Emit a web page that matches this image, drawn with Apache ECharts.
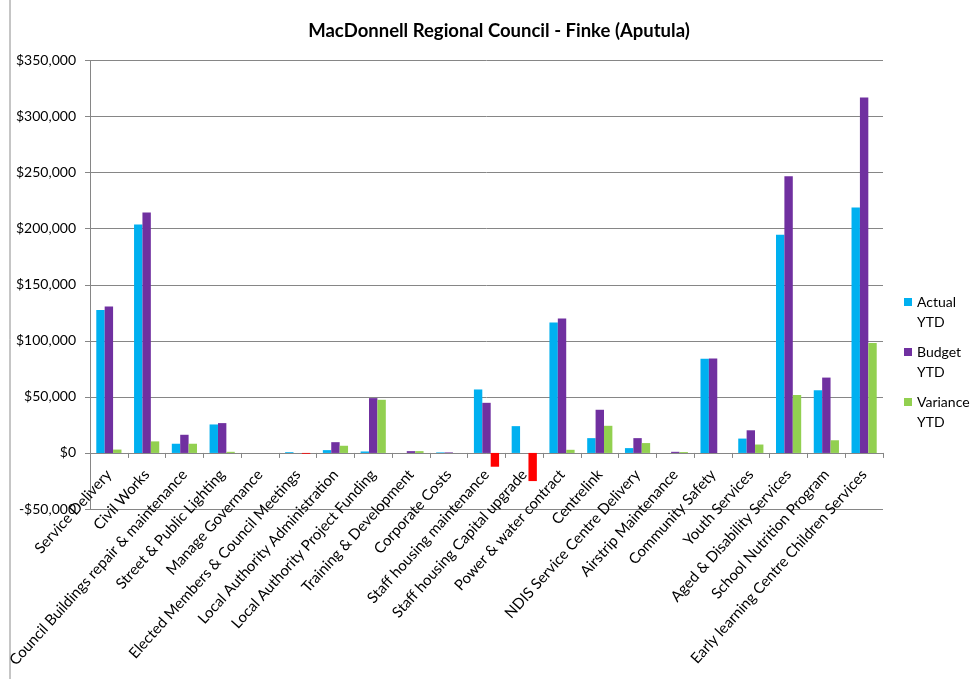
<!DOCTYPE html>
<html><head><meta charset="utf-8">
<script src="https://cdn.jsdelivr.net/npm/echarts@6/dist/echarts.min.js"></script>
<style>html,body{margin:0;padding:0;background:#fff}#c{width:979px;height:679px}</style>
</head><body><div id="c"></div>
<script>
var categories = ["Service Delivery","Civil Works","Council Buildings repair & maintenance","Street & Public Lighting","Manage Governance","Elected Members & Council Meetings","Local Authority Administration","Local Authority Project Funding","Training & Development","Corporate Costs","Staff housing maintenance","Staff housing Capital upgrade","Power & water contract","Centrelink","NDIS Service Centre Delivery","Airstrip Maintenance","Community Safety","Youth Services","Aged & Disability Services","School Nutrition Program","Early learning Centre Children Services"];
var actualYTD = [127500,203700,8200,25400,0,700,2500,1300,0,500,56600,23900,116400,13200,4300,0,84000,12800,194700,55900,218800];
var budgetYTD = [130500,214400,16200,26600,0,0,9600,48900,1600,500,44700,0,119900,38500,13200,1000,84200,20200,246700,67200,316900];
var varianceYTD = [3000,10300,8200,1000,0,-700,6400,47400,1600,0,-12300,-25100,2800,24200,8800,800,0,7500,51700,11300,98100];
var yTicks = {min:-50000, max:350000, interval:50000};

var gridTop = 60.5, gridBottom = 170, H = 679;
var plotH = H - gridTop - gridBottom;
var zeroOffset = -plotH * (0 - yTicks.min) / (yTicks.max - yTicks.min);

var chart = echarts.init(document.getElementById('c'));
var font = 'Lato, "Open Sans", sans-serif';
function money(v){ var s = Math.abs(v).toLocaleString('en-US'); return (v<0?'-$':'$')+s; }
chart.setOption({
  animation:false,
  textStyle:{fontFamily:font},
  title:{text:'MacDonnell Regional Council - Finke (Aputula)', left:494, top:17, textAlign:'center',
    textStyle:{fontFamily:font, fontSize:18.5, fontWeight:'bold', color:'#000'}},
  graphic:[{type:'rect', shape:{x:10,y:-5,width:1000,height:700}, style:{fill:'none', stroke:'#8c8c8c', lineWidth:1}}],
  legend:{orient:'vertical', left:899, top:267, itemWidth:8, itemHeight:8, itemGap:-10, icon:'rect',
    formatter:function(n){ return ' \n' + n; },
    textStyle:{fontFamily:font, fontSize:14, color:'#000', lineHeight:20},
    data:['Actual\nYTD','Budget\nYTD','Variance\nYTD']},
  grid:{left:90, right:96, top:gridTop, bottom:gridBottom, containLabel:false},
  xAxis:{type:'category', data:categories, boundaryGap:true, position:'bottom', offset:zeroOffset,
    axisLine:{onZero:false, lineStyle:{color:'#868686'}},
    axisTick:{show:true, alignWithLabel:false, length:5, lineStyle:{color:'#868686'}},
    axisLabel:{rotate:48, interval:0, margin:19, fontSize:15, color:'#000', fontFamily:font}},
  yAxis:{type:'value', min:yTicks.min, max:yTicks.max, interval:yTicks.interval,
    axisLine:{show:true, lineStyle:{color:'#868686'}},
    axisTick:{show:true, length:5, lineStyle:{color:'#868686'}},
    axisLabel:{formatter:money, fontSize:14, color:'#000', margin:14, fontFamily:font},
    splitLine:{show:true, lineStyle:{color:'#868686'}}},
  series:[
    {name:'Actual\nYTD', type:'bar', data:actualYTD, itemStyle:{color:'#00B0F0'}, barGap:'0%', barCategoryGap:'33.3%'},
    {name:'Budget\nYTD', type:'bar', data:budgetYTD, itemStyle:{color:'#7030A0'}, barGap:'0%', barCategoryGap:'33.3%'},
    {name:'Variance\nYTD', type:'bar', data:varianceYTD.map(function(v){return {value:v, itemStyle:{color: v<0?'#FF0000':'#92D050'}};}),
      itemStyle:{color:'#92D050'}, barGap:'0%', barCategoryGap:'33.3%'}
  ]
});
</script></body></html>
